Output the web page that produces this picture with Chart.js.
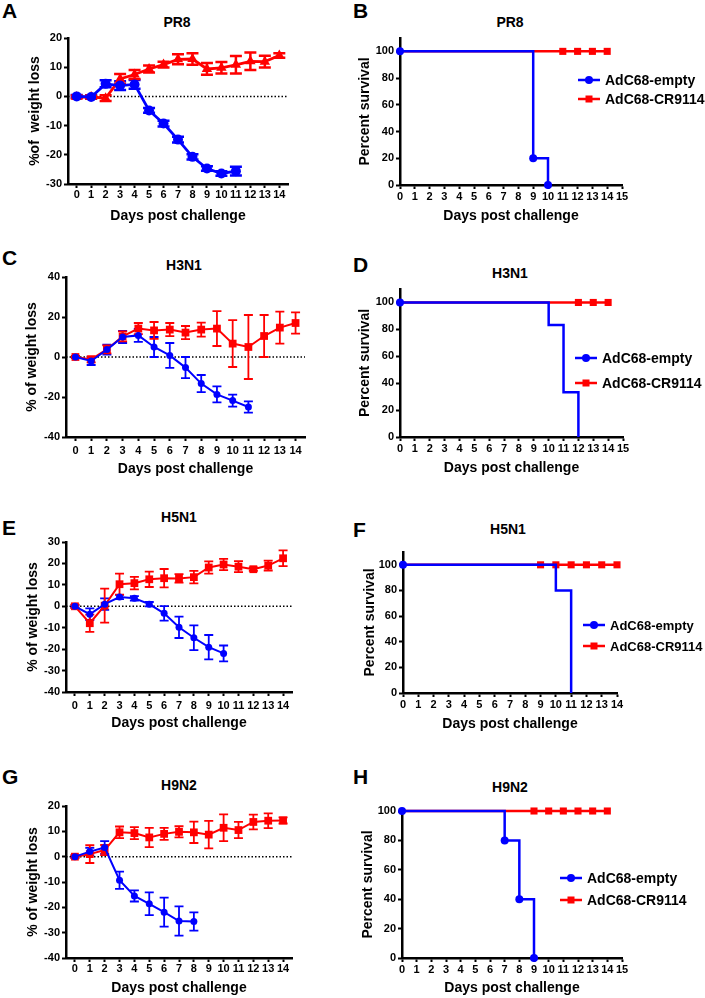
<!DOCTYPE html>
<html>
<head>
<meta charset="utf-8">
<script src="https://cdn.jsdelivr.net/npm/chart.js@4.4.1/dist/chart.umd.min.js"></script>
<style>
  body { margin: 0; background: #fff; }
  #page { position: relative; width: 705px; height: 998px; overflow: hidden; font-family: "Liberation Sans", Arial, sans-serif; }
  canvas { position: absolute; }
  .letter { position: absolute; font-weight: bold; font-size: 21px; line-height: 21px; }
  .title { position: absolute; font-weight: bold; font-size: 14px; line-height: 14px; transform: translateX(-50%); white-space: nowrap; }
</style>
</head>
<body>
<div id="page"></div>
<script>
// ---- data ----
const weightDays = [0, 1, 2, 3, 4, 5, 6, 7, 8, 9, 10, 11, 12, 13, 14];
const dayTicks = [0, 1, 2, 3, 4, 5, 6, 7, 8, 9, 10, 11, 12, 13, 14];
const kmDayTicks = [0, 1, 2, 3, 4, 5, 6, 7, 8, 9, 10, 11, 12, 13, 14, 15];
const survivalTicks = [0, 20, 40, 60, 80, 100];

// A - PR8 weight
const pr8EmptyMean = [0, -0.2, 4.3, 3.7, 4.1, -4.8, -9.3, -14.8, -20.7, -24.7, -26.4, -25.6];
const pr8EmptyErr = [0.5, 0.6, 1.2, 1.5, 1.5, 0.8, 1.0, 1.0, 0.9, 0.8, 0.8, 1.5];
const pr8CrMean = [-0.2, -0.2, -0.6, 6.0, 7.5, 9.4, 10.9, 12.7, 12.8, 9.4, 9.8, 10.8, 12.0, 11.9, 14.0];
const pr8CrErr = [0.5, 0.5, 1.0, 1.7, 1.5, 1.2, 1.0, 1.7, 2.0, 2.0, 2.0, 3.0, 3.0, 2.0, 0.8];
const pr8WeightTicks = [-30, -20, -10, 0, 10, 20];

// C - H3N1 weight
const h3n1EmptyMean = [0, -2, 3.7, 10, 10.8, 5, 0.8, -5.3, -13.3, -18.7, -21.8, -25];
const h3n1EmptyErr = [0.5, 2, 2.5, 3, 3.2, 5, 6.2, 5.3, 4.3, 4, 3, 2.8];
const h3n1CrMean = [0, -1.2, 3.8, 10.3, 14.2, 13.3, 13.7, 12.2, 13.7, 14.2, 6.7, 5, 10.5, 14.7, 17];
const h3n1CrErr = [0.5, 1.5, 2, 2.5, 2.8, 4.2, 3.3, 3.3, 3.5, 8.7, 11.7, 16, 10.5, 8, 5.3];
const h3n1WeightTicks = [-40, -20, 0, 20, 40];

// E - H5N1 weight
const h5n1EmptyMean = [0, -3.7, 1, 4.3, 3.7, 1, -3.3, -9.8, -14.7, -19.1, -22];
const h5n1EmptyErr = [0.5, 2.7, 2.7, 1, 1, 1, 3.4, 5, 5.8, 5.7, 3.7];
const h5n1CrMean = [0, -7.9, 0.3, 10.3, 10.8, 12.6, 13.1, 13, 13.6, 18.1, 19.5, 18.5, 17.3, 19, 22.4];
const h5n1CrErr = [0.8, 4, 7.9, 4.9, 2.9, 3.6, 4.3, 2, 2.9, 2.9, 2.6, 2.6, 0.8, 2.3, 3.7];
const h5n1WeightTicks = [-40, -30, -20, -10, 0, 10, 20, 30];

// G - H9N2 weight
const h9n2EmptyMean = [0, 2, 3.6, -9.3, -15.5, -18.6, -21.9, -25.4, -25.6];
const h9n2EmptyErr = [0.5, 1.5, 2.5, 3.4, 2.2, 4.5, 5.7, 5.8, 3.6];
const h9n2CrMean = [0, 1, 2.6, 9.6, 9.3, 7.6, 9, 9.8, 9.6, 8.7, 11.4, 10.5, 13.7, 14.2, 14.3];
const h9n2CrErr = [0.5, 3.5, 2, 2.3, 2.4, 3.8, 2.4, 2.2, 4.2, 5.4, 5.3, 3.2, 2.9, 2.9, 1.2];
const h9n2WeightTicks = [-40, -30, -20, -10, 0, 10, 20];

// survival (Kaplan-Meier)
const pr8EmptyDays = [0, 9, 10];
const pr8EmptySurv = [100, 20, 0];
const pr8CrDays = [0, 11, 12, 13, 14];
const pr8CrSurv = [100, 100, 100, 100, 100];

const h3n1EmptyDays = [0, 10, 11, 12];
const h3n1EmptySurv = [100, 83.3, 33.3, 0];
const h3n1CrDays = [0, 12, 13, 14];
const h3n1CrSurv = [100, 100, 100, 100];

const h5n1EmptyDays = [0, 10, 11];
const h5n1EmptySurv = [100, 80, 0];
const h5n1CrDays = [0, 9, 10, 11, 12, 13, 14];
const h5n1CrSurv = [100, 100, 100, 100, 100, 100, 100];

const h9n2EmptyDays = [0, 7, 8, 9];
const h9n2EmptySurv = [100, 80, 40, 0];
const h9n2CrDays = [0, 9, 10, 11, 12, 13, 14];
const h9n2CrSurv = [100, 100, 100, 100, 100, 100, 100];

const groupNames = ['AdC68-empty', 'AdC68-CR9114'];

// ---- setup ----
const BLUE = '#0000ff';
const RED = '#ff0000';
const FONT = "'Liberation Sans', Arial, sans-serif";
Chart.defaults.font.family = FONT;
Chart.defaults.font.weight = 'bold';
Chart.defaults.color = '#000';

const page = document.getElementById('page');

function pairs(xs, ys) {
  return ys.map((y, i) => ({ x: xs[i], y: y }));
}

function addText(cls, text, x, y) {
  const d = document.createElement('div');
  d.className = cls;
  d.textContent = text;
  d.style.left = x + 'px';
  d.style.top = y + 'px';
  page.appendChild(d);
}

function addCanvas(left, top, w, h) {
  const c = document.createElement('canvas');
  c.width = w; c.height = h;
  c.style.left = left + 'px';
  c.style.top = top + 'px';
  c.style.width = w + 'px';
  c.style.height = h + 'px';
  page.appendChild(c);
  return c;
}

// error bars drawn from each dataset's "errors" array
const errorBars = {
  id: 'errorBars',
  beforeDatasetsDraw(chart, args, opts) {
    const { ctx } = chart;
    const yScale = chart.scales.y;
    ctx.save();
    chart.data.datasets.forEach((ds, i) => {
      if (!ds.errors) return;
      const meta = chart.getDatasetMeta(i);
      ctx.strokeStyle = ds.borderColor;
      ctx.lineWidth = opts.width;
      meta.data.forEach((pt, j) => {
        const v = ds.data[j].y, e = ds.errors[j];
        const top = yScale.getPixelForValue(v + e);
        const bot = yScale.getPixelForValue(v - e);
        ctx.beginPath();
        ctx.moveTo(pt.x, top); ctx.lineTo(pt.x, bot);
        ctx.moveTo(pt.x - opts.cap, top); ctx.lineTo(pt.x + opts.cap, top);
        ctx.moveTo(pt.x - opts.cap, bot); ctx.lineTo(pt.x + opts.cap, bot);
        ctx.stroke();
      });
    });
    ctx.restore();
  }
};

// dotted baseline at 0
const zeroLine = {
  id: 'zeroLine',
  beforeDatasetsDraw(chart) {
    const { ctx, chartArea } = chart;
    const y = chart.scales.y.getPixelForValue(0);
    ctx.save();
    ctx.strokeStyle = '#000';
    ctx.lineWidth = 1.5;
    ctx.setLineDash([1.5, 2]);
    ctx.beginPath();
    ctx.moveTo(chartArea.left, y);
    ctx.lineTo(chartArea.right, y);
    ctx.stroke();
    ctx.restore();
  }
};

// legend with line + symbol, like the survival panels
const kmLegend = {
  id: 'kmLegend',
  afterDraw(chart, args, opts) {
    const { ctx, chartArea } = chart;
    ctx.save();
    chart.data.datasets.forEach((ds, i) => {
      const x = chartArea.left + opts.left;
      const y = chartArea.top + opts.top + i * opts.gap;
      ctx.strokeStyle = ds.borderColor;
      ctx.fillStyle = ds.borderColor;
      ctx.lineWidth = 2.5;
      ctx.beginPath();
      ctx.moveTo(x, y); ctx.lineTo(x + 22, y);
      ctx.stroke();
      if (ds.pointStyle === 'circle') {
        ctx.beginPath();
        ctx.arc(x + 11, y, 4, 0, Math.PI * 2);
        ctx.fill();
      } else {
        ctx.fillRect(x + 7.5, y - 3.5, 7, 7);
      }
      ctx.fillStyle = '#000';
      ctx.font = 'bold ' + (opts.size || 14) + 'px ' + FONT;
      ctx.textBaseline = 'middle';
      ctx.fillText(ds.label, x + 27, y + 1);
    });
    ctx.restore();
  }
};

function axes(p, xMin, xMax, xTickList, yMin, yMax, yTickList, yTitle) {
  const grid = { drawOnChartArea: false, drawTicks: true, tickLength: 4, tickWidth: 2, tickColor: '#000', color: '#000' };
  const border = { display: true, color: '#000', width: 2.5 };
  return {
    x: {
      type: 'linear', min: xMin, max: xMax,
      grid: grid, border: border,
      afterBuildTicks: s => { s.ticks = xTickList.map(v => ({ value: v })); },
      afterFit: s => { s.height = p.canvasBottom - p.area.bottom; },
      ticks: { font: { size: 11, weight: 'bold' }, padding: p.xTickPad, maxRotation: 0, autoSkip: false, color: '#000' },
      title: { display: true, text: 'Days post challenge', font: { size: 14, weight: 'bold' }, padding: 0, color: '#000' }
    },
    y: {
      type: 'linear', min: yMin, max: yMax,
      grid: grid, border: border,
      afterBuildTicks: s => { s.ticks = yTickList.map(v => ({ value: v })); },
      afterFit: s => { s.width = p.area.left - p.canvasLeft; },
      ticks: { font: { size: 11, weight: 'bold' }, padding: 2, color: '#000' },
      title: { display: true, text: yTitle, font: { size: 14, weight: 'bold' }, padding: 0, color: '#000' }
    }
  };
}

function frame(p, canvasRight) {
  p.canvasLeft = Math.round(p.yTitleX - 8.4);
  p.canvasTop = p.area.top - 12;
  p.canvasRight = canvasRight;
  p.canvasBottom = Math.round(p.xTitleY + 8.4);
  addText('letter', p.letter, p.letterX, p.letterY - 3);
  addText('title', p.title, p.titleX, p.titleY - 7);
  return addCanvas(p.canvasLeft, p.canvasTop, p.canvasRight - p.canvasLeft, p.canvasBottom - p.canvasTop);
}

function weightPanel(p) {
  const canvas = frame(p, p.area.right + 14);
  new Chart(canvas, {
    type: 'line',
    data: {
      datasets: [
        { label: groupNames[0], data: pairs(weightDays, p.emptyMean), errors: p.emptyErr,
          borderColor: BLUE, backgroundColor: BLUE, pointStyle: 'circle', pointRadius: p.circleR,
          pointBorderWidth: 0, borderWidth: p.lineW, order: 0, clip: false },
        { label: groupNames[1], data: pairs(weightDays, p.crMean), errors: p.crErr,
          borderColor: RED, backgroundColor: RED, pointStyle: p.crStyle, pointRadius: p.crR,
          pointBorderWidth: 0, borderWidth: p.lineW, order: 1, clip: false }
      ]
    },
    options: {
      responsive: false, animation: false,
      layout: { padding: { left: 0, top: 12, right: p.canvasRight - p.area.right, bottom: 0 } },
      plugins: { legend: { display: false }, tooltip: { enabled: false },
                 errorBars: { cap: p.cap, width: p.errW } },
      scales: axes(p, -0.6, 14.6, dayTicks, p.yTicks[0], p.yTicks[p.yTicks.length - 1], p.yTicks, p.yTitle)
    },
    plugins: [zeroLine, errorBars]
  });
}

function survivalPanel(p) {
  const canvas = frame(p, 705);
  new Chart(canvas, {
    type: 'line',
    data: {
      datasets: [
        { label: groupNames[0], data: pairs(p.emptyDays, p.emptySurv), stepped: 'before',
          borderColor: BLUE, backgroundColor: BLUE, pointStyle: 'circle',
          pointRadius: c => (p.allEmptyMarkers || c.dataIndex === 0) ? 4 : 0,
          pointBorderWidth: 0, borderWidth: 2.5, order: 0, clip: false },
        { label: groupNames[1], data: pairs(p.crDays, p.crSurv), stepped: 'before',
          borderColor: RED, backgroundColor: RED, pointStyle: 'rect',
          pointRadius: c => c.dataIndex === 0 ? 0 : 5,
          pointBorderWidth: 0, borderWidth: 2.5, order: 1, clip: false }
      ]
    },
    options: {
      responsive: false, animation: false,
      layout: { padding: { left: 0, top: 12, right: p.canvasRight - p.area.right, bottom: 0 } },
      plugins: { legend: { display: false }, tooltip: { enabled: false }, kmLegend: p.legend },
      scales: axes(p, 0, p.xMax, p.xMax === 15 ? kmDayTicks : dayTicks, 0, p.yMax, survivalTicks, 'Percent survival')
    },
    plugins: [kmLegend]
  });
}

// ---- panels ----
weightPanel({
  letter: 'A', letterX: 2, letterY: 3, title: 'PR8', titleX: 177, titleY: 22,
  area: { left: 68, right: 288, top: 38, bottom: 184 }, yTitleX: 35, xTitleY: 217, xTickPad: 0,
  emptyMean: pr8EmptyMean, emptyErr: pr8EmptyErr, crMean: pr8CrMean, crErr: pr8CrErr,
  yTicks: pr8WeightTicks, yTitle: '%of  weight loss',
  circleR: 5, crStyle: 'triangle', crR: 6, lineW: 2.8, cap: 6, errW: 2.5
});
survivalPanel({
  letter: 'B', letterX: 353, letterY: 3, title: 'PR8', titleX: 510, titleY: 22,
  area: { left: 400, right: 622, top: 38, bottom: 185 }, yTitleX: 365, xTitleY: 217, xTickPad: 1,
  emptyDays: pr8EmptyDays, emptySurv: pr8EmptySurv, crDays: pr8CrDays, crSurv: pr8CrSurv,
  allEmptyMarkers: true, xMax: 15, yMax: 110,
  legend: { left: 178, top: 42, gap: 19, size: 14 }
});
weightPanel({
  letter: 'C', letterX: 2, letterY: 250, title: 'H3N1', titleX: 184, titleY: 265,
  area: { left: 66, right: 305, top: 277, bottom: 437 }, yTitleX: 32, xTitleY: 470, xTickPad: 3,
  emptyMean: h3n1EmptyMean, emptyErr: h3n1EmptyErr, crMean: h3n1CrMean, crErr: h3n1CrErr,
  yTicks: h3n1WeightTicks, yTitle: '% of weight loss',
  circleR: 3.5, crStyle: 'rect', crR: 5.5, lineW: 2, cap: 4.5, errW: 1.8
});
survivalPanel({
  letter: 'D', letterX: 353, letterY: 257, title: 'H3N1', titleX: 510, titleY: 273,
  area: { left: 400, right: 623, top: 289, bottom: 437 }, yTitleX: 365, xTitleY: 469, xTickPad: 1,
  emptyDays: h3n1EmptyDays, emptySurv: h3n1EmptySurv, crDays: h3n1CrDays, crSurv: h3n1CrSurv,
  allEmptyMarkers: false, xMax: 15, yMax: 110,
  legend: { left: 175, top: 69, gap: 25, size: 14 }
});
weightPanel({
  letter: 'E', letterX: 2, letterY: 520, title: 'H5N1', titleX: 179, titleY: 517,
  area: { left: 66, right: 292, top: 542, bottom: 692 }, yTitleX: 33, xTitleY: 724, xTickPad: 3,
  emptyMean: h5n1EmptyMean, emptyErr: h5n1EmptyErr, crMean: h5n1CrMean, crErr: h5n1CrErr,
  yTicks: h5n1WeightTicks, yTitle: '% of weight loss',
  circleR: 3.5, crStyle: 'rect', crR: 5.5, lineW: 2, cap: 4.5, errW: 1.8
});
survivalPanel({
  letter: 'F', letterX: 353, letterY: 522, title: 'H5N1', titleX: 508, titleY: 529,
  area: { left: 403, right: 617, top: 552, bottom: 693 }, yTitleX: 370, xTitleY: 725, xTickPad: 1,
  emptyDays: h5n1EmptyDays, emptySurv: h5n1EmptySurv, crDays: h5n1CrDays, crSurv: h5n1CrSurv,
  allEmptyMarkers: false, xMax: 14, yMax: 110,
  legend: { left: 180, top: 73, gap: 21, size: 13 }
});
weightPanel({
  letter: 'G', letterX: 2, letterY: 769, title: 'H9N2', titleX: 179, titleY: 785,
  area: { left: 66, right: 292, top: 806, bottom: 958 }, yTitleX: 33, xTitleY: 989, xTickPad: 0,
  emptyMean: h9n2EmptyMean, emptyErr: h9n2EmptyErr, crMean: h9n2CrMean, crErr: h9n2CrErr,
  yTicks: h9n2WeightTicks, yTitle: '% of weight loss',
  circleR: 3.5, crStyle: 'rect', crR: 5.5, lineW: 2, cap: 4.5, errW: 1.8
});
survivalPanel({
  letter: 'H', letterX: 353, letterY: 769, title: 'H9N2', titleX: 510, titleY: 787,
  area: { left: 402, right: 622, top: 811, bottom: 958 }, yTitleX: 368, xTitleY: 989, xTickPad: 1,
  emptyDays: h9n2EmptyDays, emptySurv: h9n2EmptySurv, crDays: h9n2CrDays, crSurv: h9n2CrSurv,
  allEmptyMarkers: true, xMax: 15, yMax: 100,
  legend: { left: 158, top: 67, gap: 22, size: 14 }
});
</script>
</body>
</html>
